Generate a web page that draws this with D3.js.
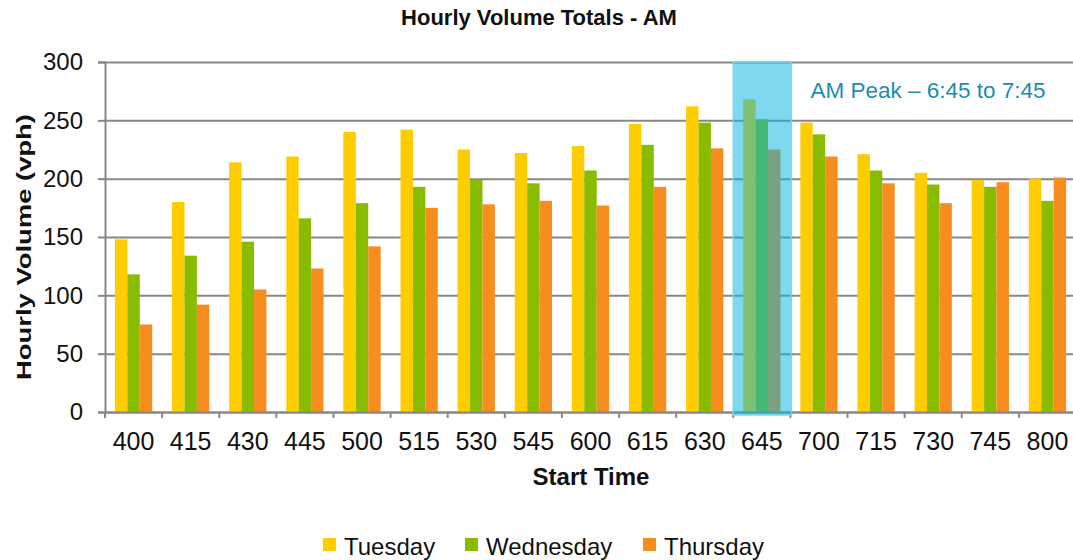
<!DOCTYPE html>
<html>
<head>
<meta charset="utf-8">
<script src="https://cdn.jsdelivr.net/npm/d3@7"></script>
<style>
  body { margin: 0; background: #fff; }
  text { font-family: "Liberation Sans", Arial, sans-serif; }
</style>
</head>
<body>
<div id="chart"></div>
<script>
// start times (x categories)
const startTimes = ["400", "415", "430", "445", "500", "515", "530", "545", "600",
    "615", "630", "645", "700", "715", "730", "745", "800"];
const seriesNames = ["Tuesday", "Wednesday", "Thursday"];
const tuesday   = [148, 180, 214, 219, 240, 242, 225, 222, 228, 247, 262, 268, 248, 221, 205, 199, 200];
const wednesday = [118, 134, 146, 166, 179, 193, 199, 196, 207, 229, 248, 251, 238, 207, 195, 193, 181];
const thursday  = [75, 92, 105, 123, 142, 175, 178, 181, 177, 193, 226, 225, 219, 196, 179, 197, 201];
const yTicks = [0, 50, 100, 150, 200, 250, 300];
const peakStart = "645";
const peakLabel = "AM Peak \u2013 6:45 to 7:45";

const colors = ["#ffcc00", "#89bc00", "#f78d1f"];

function drawChart() {
    const width = 1073, height = 560;
    const margin = {top: 62, right: -3, bottom: 148, left: 105};

    const svg = d3.select("#chart")
        .append("svg")
        .attr("width", width)
        .attr("height", height);

    const rows = startTimes.map((t, i) => ({
        time: t,
        values: [tuesday[i], wednesday[i], thursday[i]]
    }));

    const x0 = d3.scaleBand()
        .domain(startTimes)
        .range([margin.left, width - margin.right])
        .padding(0);

    const x1 = d3.scaleBand()
        .domain(d3.range(seriesNames.length))
        .range([0, x0.bandwidth()])
        .paddingInner(0)
        .paddingOuter(0.8);

    const y = d3.scaleLinear()
        .domain([0, 300])
        .range([height - margin.bottom, margin.top]);

    // gridlines
    svg.append("g")
        .attr("transform", `translate(${margin.left},0)`)
        .call(d3.axisLeft(y).tickValues(yTicks).tickSize(-(width - margin.right - margin.left)).tickFormat(""))
        .call(g => g.select(".domain").remove())
        .call(g => g.selectAll("line").attr("stroke", "#878787").attr("stroke-width", 2));

    // bars
    svg.append("g")
        .selectAll("g")
        .data(rows)
        .join("g")
        .attr("transform", d => `translate(${x0(d.time)},0)`)
        .selectAll("rect")
        .data(d => d.values)
        .join("rect")
        .attr("x", (d, i) => x1(i))
        .attr("y", d => y(d))
        .attr("width", x1.bandwidth())
        .attr("height", d => y(0) - y(d))
        .attr("fill", (d, i) => colors[i]);

    // y axis
    svg.append("g")
        .attr("transform", `translate(${margin.left},0)`)
        .call(d3.axisLeft(y).tickValues(yTicks).tickSize(7).tickPadding(15))
        .call(g => g.select(".domain").attr("stroke", "#878787").attr("stroke-width", 2))
        .call(g => g.selectAll("line").attr("stroke", "#878787").attr("stroke-width", 2))
        .call(g => g.selectAll("text")
            .attr("font-size", "24px")
            .attr("fill", "#111")
            .attr("font-family", "Liberation Sans, Arial, sans-serif"));

    // x axis
    const xAxis = svg.append("g")
        .attr("transform", `translate(0,${y(0)})`)
        .call(d3.axisBottom(x0).tickSize(0).tickPadding(20))
        .call(g => g.select(".domain").attr("stroke", "#878787").attr("stroke-width", 2))
        .call(g => g.selectAll("text")
            .attr("font-size", "25px")
            .attr("fill", "#111")
            .attr("font-family", "Liberation Sans, Arial, sans-serif"));

    // ticks between categories
    xAxis.append("g")
        .selectAll("line")
        .data(startTimes.concat([null]))
        .join("line")
        .attr("x1", (d, i) => margin.left + i * x0.step())
        .attr("x2", (d, i) => margin.left + i * x0.step())
        .attr("y1", 0)
        .attr("y2", 6)
        .attr("stroke", "#878787")
        .attr("stroke-width", 2);

    // AM peak highlight
    svg.append("rect")
        .attr("x", x0(peakStart))
        .attr("y", y(300))
        .attr("width", x0.bandwidth() + 1)
        .attr("height", y(0) - y(300) + 3)
        .attr("fill", "rgb(8,182,222)")
        .attr("fill-opacity", 0.52)
        .attr("stroke", "rgb(120,214,238)")
        .attr("stroke-width", 1.5);

    svg.append("text")
        .attr("x", x0(peakStart) + x0.step() + 20)
        .attr("y", 98)
        .attr("font-size", "22.5px")
        .attr("fill", "#1b8dae")
        .text(peakLabel);

    // title
    svg.append("text")
        .attr("x", 539)
        .attr("y", 25)
        .attr("text-anchor", "middle")
        .attr("font-size", "22px")
        .attr("font-weight", "bold")
        .attr("fill", "#111")
        .text("Hourly Volume Totals - AM");

    // axis titles
    svg.append("text")
        .attr("x", 591)
        .attr("y", 485)
        .attr("text-anchor", "middle")
        .attr("font-size", "24px")
        .attr("font-weight", "bold")
        .attr("fill", "#111")
        .text("Start Time");

    svg.append("text")
        .attr("transform", "translate(31,247) rotate(-90)")
        .attr("text-anchor", "middle")
        .attr("font-size", "21px")
        .attr("font-weight", "bold")
        .attr("fill", "#111")
        .attr("textLength", 266)
        .attr("lengthAdjust", "spacingAndGlyphs")
        .text("Hourly Volume (vph)");

    // legend
    const legendX = [323, 465, 643];
    const legend = svg.append("g")
        .selectAll("g")
        .data(seriesNames)
        .join("g")
        .attr("transform", (d, i) => `translate(${legendX[i]},538)`);
    legend.append("rect")
        .attr("width", 13)
        .attr("height", 13)
        .attr("fill", (d, i) => colors[i]);
    legend.append("text")
        .attr("x", 21)
        .attr("y", 17)
        .attr("font-size", "24px")
        .attr("fill", "#111")
        .text(d => d);
}

drawChart();
</script>
</body>
</html>
